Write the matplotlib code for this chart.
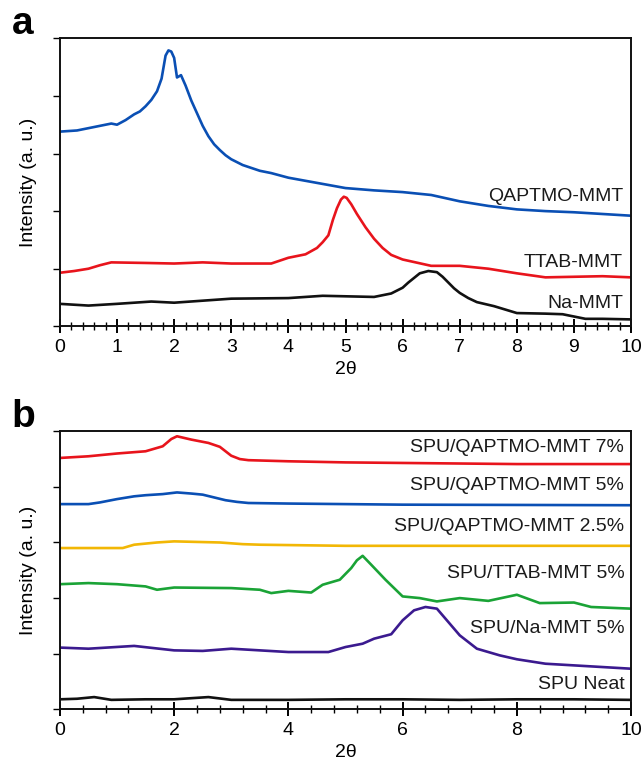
import matplotlib.pyplot as plt
from matplotlib.ticker import MultipleLocator

plt.rcParams['font.family'] = ['Liberation Sans', 'DejaVu Sans']

# ---- panel a: clay powders ----
qaptmo_x = [0, 0.15, 0.3, 0.5, 0.7, 0.9, 1.0, 1.15, 1.3, 1.4, 1.5, 1.6, 1.7, 1.78, 1.85, 1.9, 1.95,
            2.0, 2.05, 2.12, 2.2, 2.3, 2.4, 2.5, 2.6, 2.7, 2.8, 2.9, 3.0, 3.2, 3.5, 3.7, 4.0, 4.5,
            5.0, 5.5, 6.0, 6.5, 7.0, 7.5, 8.0, 8.5, 9.0, 9.5, 10.0]
qaptmo_y = [3.38, 3.39, 3.40, 3.44, 3.48, 3.52, 3.50, 3.58, 3.68, 3.73, 3.82, 3.93, 4.08, 4.30, 4.70,
            4.79, 4.77, 4.66, 4.32, 4.36, 4.18, 3.92, 3.70, 3.48, 3.30, 3.16, 3.06, 2.97, 2.90, 2.80,
            2.70, 2.66, 2.58, 2.49, 2.40, 2.36, 2.33, 2.28, 2.17, 2.09, 2.03, 2.00, 1.98, 1.95, 1.92]

ttab_x = [0, 0.25, 0.5, 0.7, 0.9, 1.5, 2.0, 2.5, 3.0, 3.7, 3.85, 4.0, 4.3, 4.5, 4.6, 4.7, 4.78,
          4.85, 4.92, 4.97, 5.02, 5.1, 5.2, 5.35, 5.5, 5.65, 5.8, 6.0, 6.5, 7.0, 7.5, 8.0, 8.5,
          9.0, 9.5, 10.0]
ttab_y = [0.93, 0.96, 1.00, 1.06, 1.11, 1.10, 1.09, 1.11, 1.09, 1.09, 1.14, 1.19, 1.25, 1.36, 1.46,
          1.58, 1.85, 2.05, 2.20, 2.25, 2.23, 2.12, 1.95, 1.72, 1.52, 1.36, 1.24, 1.16, 1.05, 1.05,
          1.00, 0.92, 0.85, 0.86, 0.87, 0.85]

namm_x = [0, 0.5, 1.0, 1.6, 2.0, 3.0, 4.0, 4.6, 5.5, 5.8, 6.0, 6.1, 6.2, 6.3, 6.45, 6.6, 6.7, 6.8,
          6.9, 7.0, 7.15, 7.3, 7.6, 8.0, 8.5, 8.8, 9.2, 9.5, 10.0]
namm_y = [0.39, 0.36, 0.39, 0.43, 0.41, 0.48, 0.49, 0.53, 0.51, 0.57, 0.67, 0.76, 0.84, 0.92, 0.96,
          0.94, 0.86, 0.76, 0.66, 0.58, 0.49, 0.42, 0.35, 0.23, 0.22, 0.21, 0.13, 0.13, 0.12]

# ---- panel b: SPU composites ----
q7_x = [0, 0.5, 1.0, 1.5, 1.8, 1.95, 2.05, 2.3, 2.6, 2.8, 2.9, 3.0, 3.15, 3.3, 4.0, 5.0, 6.0,
        8.0, 10.0]
q7_y = [4.52, 4.55, 4.60, 4.64, 4.73, 4.86, 4.91, 4.85, 4.79, 4.72, 4.64, 4.56, 4.50, 4.48, 4.46,
        4.44, 4.43, 4.41, 4.41]

q5_x = [0, 0.5, 0.7, 1.0, 1.3, 1.5, 1.8, 2.05, 2.3, 2.5, 2.7, 2.9, 3.1, 3.3, 4.0, 6.0, 10.0]
q5_y = [3.69, 3.69, 3.72, 3.78, 3.83, 3.85, 3.87, 3.90, 3.88, 3.86, 3.81, 3.76, 3.73, 3.71, 3.70,
        3.68, 3.67]

q25_x = [0, 1.1, 1.3, 1.7, 2.0, 2.8, 3.2, 3.5, 5.0, 10.0]
q25_y = [2.90, 2.90, 2.96, 3.00, 3.02, 3.00, 2.97, 2.96, 2.94, 2.94]

tt5_x = [0, 0.5, 1.0, 1.5, 1.7, 2.0, 3.0, 3.5, 3.7, 4.0, 4.4, 4.6, 4.9, 5.1, 5.2, 5.3, 5.45, 5.7,
         6.0, 6.3, 6.6, 7.0, 7.5, 8.0, 8.4, 9.0, 9.3, 10.0]
tt5_y = [2.25, 2.27, 2.25, 2.21, 2.15, 2.19, 2.18, 2.15, 2.09, 2.13, 2.10, 2.24, 2.33, 2.54, 2.68,
         2.76, 2.60, 2.33, 2.03, 2.00, 1.94, 2.00, 1.95, 2.06, 1.91, 1.92, 1.84, 1.81]

na5_x = [0, 0.5, 1.3, 2.0, 2.5, 3.0, 4.0, 4.7, 5.0, 5.3, 5.5, 5.8, 6.0, 6.2, 6.4, 6.6, 6.8, 7.0,
         7.3, 7.7, 8.0, 8.5, 9.0, 9.5, 10.0]
na5_y = [1.11, 1.09, 1.14, 1.06, 1.05, 1.09, 1.03, 1.03, 1.12, 1.18, 1.27, 1.35, 1.60, 1.78, 1.84,
         1.81, 1.57, 1.33, 1.09, 0.97, 0.90, 0.82, 0.79, 0.76, 0.73]

neat_x = [0, 0.3, 0.6, 0.9, 1.5, 2.0, 2.6, 3.0, 4.0, 5.0, 6.0, 7.0, 8.0, 9.0, 10.0]
neat_y = [0.18, 0.19, 0.22, 0.17, 0.18, 0.18, 0.22, 0.17, 0.17, 0.18, 0.18, 0.17, 0.18, 0.18, 0.17]

BLUE = '#0a4fb4'
RED = '#e8141c'
BLACK = '#111111'
YELLOW = '#f2b705'
GREEN = '#1aa336'
PURPLE = '#3b1a8f'

fig = plt.figure(figsize=(6.44, 7.66), dpi=100)
ax_a = fig.add_axes([0.093, 0.574, 0.887, 0.376])
ax_b = fig.add_axes([0.093, 0.074, 0.887, 0.363])

lw = 1.9
ax_a.plot(qaptmo_x, qaptmo_y, color=BLUE, lw=lw)
ax_a.plot(ttab_x, ttab_y, color=RED, lw=lw)
ax_a.plot(namm_x, namm_y, color=BLACK, lw=lw)

ax_b.plot(q7_x, q7_y, color=RED, lw=lw)
ax_b.plot(q5_x, q5_y, color=BLUE, lw=lw)
ax_b.plot(q25_x, q25_y, color=YELLOW, lw=lw)
ax_b.plot(tt5_x, tt5_y, color=GREEN, lw=lw)
ax_b.plot(na5_x, na5_y, color=PURPLE, lw=lw)
ax_b.plot(neat_x, neat_y, color=BLACK, lw=lw)

fs = 14
for txt, y in [('QAPTMO-MMT', 2.25), ('TTAB-MMT', 1.11), ('Na-MMT', 0.39)]:
    ax_a.text(9.86, y, txt, ha='right', va='center', fontsize=fs, color='#1a1a1a')
for txt, y in [('SPU/QAPTMO-MMT 7%', 4.71), ('SPU/QAPTMO-MMT 5%', 4.02),
               ('SPU/QAPTMO-MMT 2.5%', 3.29), ('SPU/TTAB-MMT 5%', 2.45),
               ('SPU/Na-MMT 5%', 1.45), ('SPU Neat', 0.45)]:
    ax_b.text(9.88, y, txt, ha='right', va='center', fontsize=fs, color='#1a1a1a')

for ax, major in [(ax_a, 1), (ax_b, 2)]:
    ax.set_xlim(0, 10)
    ax.set_ylim(0, 5)
    ax.xaxis.set_major_locator(MultipleLocator(major))
    ax.xaxis.set_minor_locator(MultipleLocator(major / 5))
    ax.yaxis.set_major_locator(MultipleLocator(1))
    ax.set_yticklabels([])
    ax.tick_params(axis='x', which='major', direction='inout', length=10, width=1.4,
                   labelsize=fs, pad=4)
    ax.tick_params(axis='x', which='minor', direction='inout', length=6, width=1.0)
    ax.tick_params(axis='y', which='major', direction='out', length=5, width=1.0)
    for s in ax.spines.values():
        s.set_linewidth(1.4)
        s.set_color('#111111')
    ax.set_xlabel('2θ', fontsize=fs, labelpad=4)
    ax.set_ylabel('Intensity (a. u.)', fontsize=fs, labelpad=8)

fig.text(0.018, 0.969, 'a', fontsize=28, fontweight='bold', va='center', ha='left')
fig.text(0.018, 0.456, 'b', fontsize=28, fontweight='bold', va='center', ha='left')

fig.savefig('out.png', dpi=100)
